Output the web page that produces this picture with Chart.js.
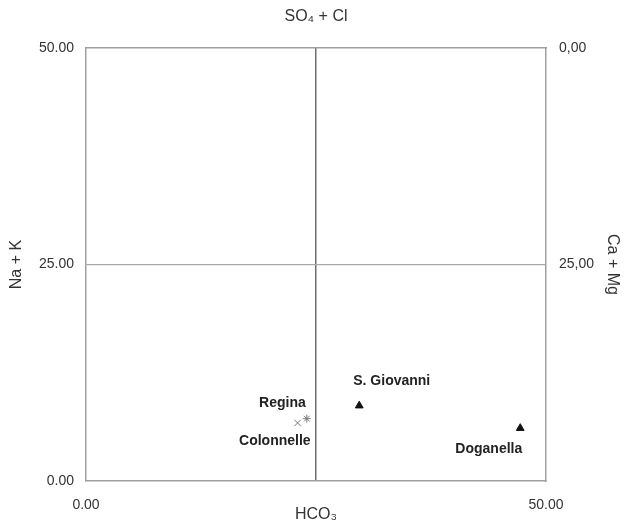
<!DOCTYPE html>
<html>
<head>
<meta charset="utf-8">
<script src="https://cdn.jsdelivr.net/npm/chart.js@4/dist/chart.umd.min.js"></script>
<style>
  html, body { margin: 0; padding: 0; background: #ffffff; }
  #wrap { width: 625px; height: 522px; }
</style>
</head>
<body>
<div id="wrap"><canvas id="chart" width="625" height="522"></canvas></div>
<script>
// Sampling stations (HCO3 vs Na + K, in % meq)
const stations = ['S. Giovanni', 'Doganella', 'Regina', 'Colonnelle'];
const hco3 = [29.7, 47.2, 24.0, 23.0];
const naK = [8.7, 6.1, 7.2, 6.7];

// Axis ticks and their printed labels
const xTicks = [0, 25, 50];
const xTickLabels = ['0.00', '', '50.00'];
const yTicks = [0, 25, 50];
const yTickLabels = ['0.00', '25.00', '50.00'];
const caMgTicks = [0, 25];
const caMgTickLabels = ['0,00', '25,00'];

// Marker and label appearance per station
const markerStyle = [
  { pointStyle: 'triangle', color: '#111111', radius: 4.5 },
  { pointStyle: 'triangle', color: '#111111', radius: 4.5 },
  { pointStyle: 'star', color: '#7a7a7a', radius: 4 },
  { pointStyle: 'crossRot', color: '#7a7a7a', radius: 4.5 }
];
const labelPlacement = [
  { dx: -6, dy: -25, align: 'left' },
  { dx: 2, dy: 21, align: 'right' },
  { dx: -1, dy: -16, align: 'right' },
  { dx: 13, dy: 18, align: 'right' }
];

const datasets = stations.map((name, i) => ({
  label: name,
  data: [{ x: hco3[i], y: naK[i] }],
  pointStyle: markerStyle[i].pointStyle,
  pointRadius: markerStyle[i].radius,
  pointBackgroundColor: markerStyle[i].color,
  pointBorderColor: markerStyle[i].color,
  pointBorderWidth: 1,
  showLine: false
}));

// Writes each station name beside its marker
const stationLabels = {
  id: 'stationLabels',
  afterDatasetsDraw(chart) {
    const ctx = chart.ctx;
    ctx.save();
    ctx.font = 'bold 14px "Liberation Sans", Arial, sans-serif';
    ctx.fillStyle = '#222222';
    ctx.textBaseline = 'middle';
    chart.data.datasets.forEach((ds, i) => {
      const el = chart.getDatasetMeta(i).data[0];
      if (!el) return;
      const p = labelPlacement[i];
      ctx.textAlign = p.align;
      ctx.fillText(ds.label, el.x + p.dx, el.y + p.dy);
    });
    ctx.restore();
  }
};

const tickFont = { family: '"Liberation Sans", Arial, sans-serif', size: 14 };
const titleFont = { family: '"Liberation Sans", Arial, sans-serif', size: 16, lineHeight: 1.2 };
const frameColor = '#a0a0a0';

new Chart(document.getElementById('chart'), {
  type: 'scatter',
  data: { datasets },
  plugins: [stationLabels],
  options: {
    responsive: false,
    animation: false,
    layout: { padding: 0 },
    plugins: { legend: { display: false }, tooltip: { enabled: false } },
    scales: {
      x: {
        type: 'linear', position: 'bottom', min: 0, max: 50,
        afterBuildTicks: (axis) => { axis.ticks = xTicks.map(v => ({ value: v })); },
        afterFit: (axis) => { axis.height = 41; },
        ticks: {
          font: tickFont, color: '#333333', padding: 16, maxRotation: 0, autoSkip: false,
          callback: (v, idx) => xTickLabels[idx]
        },
        grid: {
          drawTicks: false,
          color: (c) => (c.tick && c.tick.value === 25) ? '#6e6e6e' : 'rgba(0,0,0,0)',
          lineWidth: 1.5
        },
        border: { display: true, color: frameColor, width: 1.5 },
        title: {
          display: true, text: 'HCO₃', color: '#333333',
          font: { family: titleFont.family, size: 16, lineHeight: 1 }, padding: { top: 0, bottom: -1 }
        }
      },
      x2: {
        type: 'linear', position: 'top', min: 0, max: 50,
        afterFit: (axis) => { axis.height = 48; },
        ticks: { display: false },
        grid: { display: false, drawTicks: false },
        border: { display: true, color: frameColor, width: 1.5 },
        title: {
          display: true, text: 'SO₄ + Cl', color: '#333333',
          font: titleFont, padding: { top: 7, bottom: 0 }
        }
      },
      y: {
        type: 'linear', position: 'left', min: 0, max: 50,
        afterBuildTicks: (axis) => { axis.ticks = yTicks.map(v => ({ value: v })); },
        afterFit: (axis) => { axis.width = 86; },
        ticks: {
          font: tickFont, color: '#333333', padding: 12, autoSkip: false,
          callback: (v, idx) => yTickLabels[idx]
        },
        grid: {
          drawTicks: false,
          color: (c) => (c.tick && c.tick.value === 25) ? '#a8a8a8' : 'rgba(0,0,0,0)',
          lineWidth: 1.2
        },
        border: { display: true, color: frameColor, width: 1.5 },
        title: {
          display: true, text: 'Na + K', color: '#333333',
          font: titleFont, padding: { top: 7, bottom: 0 }
        }
      },
      y2: {
        type: 'linear', position: 'right', min: 0, max: 50, reverse: true,
        afterBuildTicks: (axis) => { axis.ticks = caMgTicks.map(v => ({ value: v })); },
        afterFit: (axis) => { axis.width = 79; },
        ticks: {
          font: tickFont, color: '#333333', padding: 13, autoSkip: false,
          callback: (v, idx) => caMgTickLabels[idx]
        },
        grid: { display: false, drawTicks: false },
        border: { display: true, color: frameColor, width: 1.5 },
        title: {
          display: true, text: 'Ca + Mg', color: '#333333',
          font: titleFont, padding: { top: 3, bottom: 0 }
        }
      }
    }
  }
});
</script>
</body>
</html>
